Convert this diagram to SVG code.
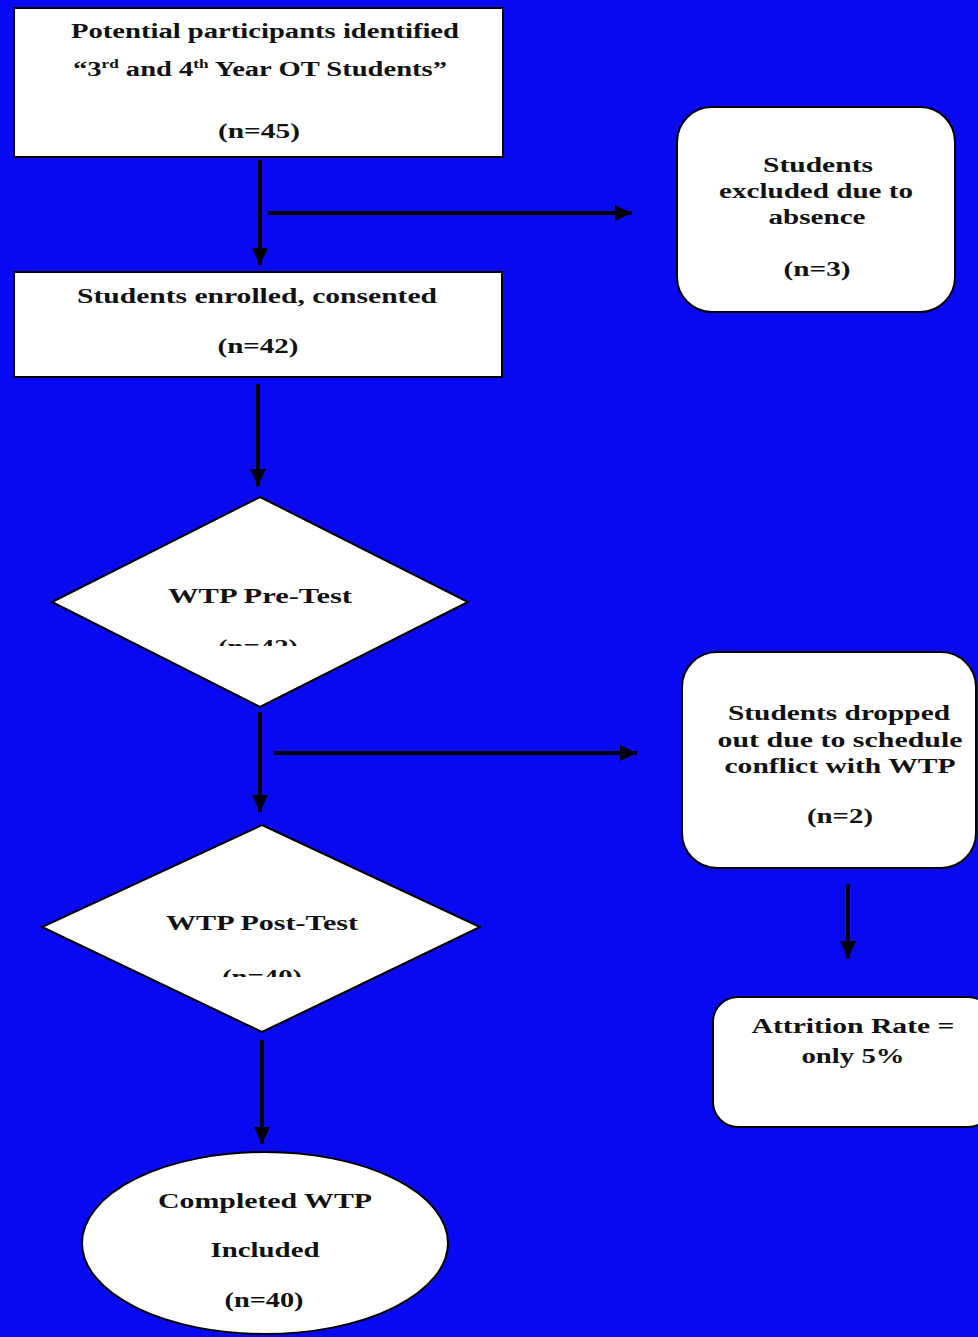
<svg xmlns="http://www.w3.org/2000/svg" width="978" height="1337" viewBox="0 0 978 1337">
<style>
.shape{fill:#ffffff;stroke:#000000;stroke-width:2}
.t{font-family:"Liberation Serif","Times New Roman",serif;font-weight:bold;font-size:20px;fill:#111111;text-anchor:middle}
.sup{font-size:12px}
.conn{stroke:#000000;stroke-width:4;fill:none}
</style>
<defs>
<marker id="ah" markerUnits="userSpaceOnUse" markerWidth="18" markerHeight="18" viewBox="0 0 18 18" refX="17" refY="9" orient="auto">
<path d="M0,1 L17,9 L0,17 Z" fill="#000000"/>
</marker>
<clipPath id="clip1"><rect x="0" y="0" width="978" height="646"/></clipPath>
<clipPath id="clip2"><rect x="0" y="0" width="978" height="977"/></clipPath>
</defs>
<rect x="0" y="0" width="978" height="1337" fill="#0a0af2"/>

<g id="connectors">
<line class="conn" x1="260" y1="160" x2="260" y2="265" marker-end="url(#ah)"/>
<line class="conn" x1="268" y1="213" x2="632" y2="213" marker-end="url(#ah)"/>
<line class="conn" x1="258" y1="384" x2="258" y2="486" marker-end="url(#ah)"/>
<line class="conn" x1="260" y1="712" x2="260" y2="812" marker-end="url(#ah)"/>
<line class="conn" x1="274" y1="753" x2="637" y2="753" marker-end="url(#ah)"/>
<line class="conn" x1="848" y1="884" x2="848" y2="958" marker-end="url(#ah)"/>
<line class="conn" x1="262" y1="1040" x2="262" y2="1144" marker-end="url(#ah)"/>
</g>

<g id="identified">
<rect class="shape" x="14" y="8" width="489" height="149"/>
<text class="t" x="265" y="38" textLength="388" lengthAdjust="spacingAndGlyphs">Potential participants identified</text>
<text class="t" x="260" y="76" textLength="374" lengthAdjust="spacingAndGlyphs">“3<tspan class="sup" dy="-8">rd</tspan><tspan dy="8"> and 4</tspan><tspan class="sup" dy="-8">th</tspan><tspan dy="8"> Year OT Students”</tspan></text>
<text class="t" x="259" y="138" textLength="82" lengthAdjust="spacingAndGlyphs">(n=45)</text>
</g>

<g id="excluded">
<rect class="shape" x="677" y="107" width="278" height="205" rx="35" ry="35"/>
<text class="t" x="818" y="172" textLength="110" lengthAdjust="spacingAndGlyphs">Students</text>
<text class="t" x="816" y="198" textLength="194" lengthAdjust="spacingAndGlyphs">excluded due to</text>
<text class="t" x="817" y="224" textLength="97" lengthAdjust="spacingAndGlyphs">absence</text>
<text class="t" x="817" y="276" textLength="67" lengthAdjust="spacingAndGlyphs">(n=3)</text>
</g>

<g id="enrolled">
<rect class="shape" x="14" y="272" width="488" height="105"/>
<text class="t" x="257" y="303" textLength="360" lengthAdjust="spacingAndGlyphs">Students enrolled, consented</text>
<text class="t" x="258" y="353" textLength="81" lengthAdjust="spacingAndGlyphs">(n=42)</text>
</g>

<g id="pretest">
<polygon class="shape" points="260,497 468,602 260,707 52,602"/>
<text class="t" x="260" y="603" textLength="184" lengthAdjust="spacingAndGlyphs">WTP Pre-Test</text>
<text class="t" x="258" y="654" textLength="80" lengthAdjust="spacingAndGlyphs" clip-path="url(#clip1)">(n=42)</text>
</g>

<g id="dropped">
<rect class="shape" x="682" y="652" width="294" height="216" rx="35" ry="35"/>
<text class="t" x="839" y="720" textLength="222" lengthAdjust="spacingAndGlyphs">Students dropped</text>
<text class="t" x="840" y="747" textLength="245" lengthAdjust="spacingAndGlyphs">out due to schedule</text>
<text class="t" x="840" y="773" textLength="231" lengthAdjust="spacingAndGlyphs">conflict with WTP</text>
<text class="t" x="840" y="823" textLength="66" lengthAdjust="spacingAndGlyphs">(n=2)</text>
</g>

<g id="posttest">
<polygon class="shape" points="262,825 480,927 262,1032 42,927"/>
<text class="t" x="262" y="930" textLength="192" lengthAdjust="spacingAndGlyphs">WTP Post-Test</text>
<text class="t" x="262" y="984" textLength="80" lengthAdjust="spacingAndGlyphs" clip-path="url(#clip2)">(n=40)</text>
</g>

<g id="attrition">
<rect class="shape" x="713" y="997" width="280" height="130" rx="25" ry="25"/>
<text class="t" x="853" y="1033" textLength="203" lengthAdjust="spacingAndGlyphs">Attrition Rate =</text>
<text class="t" x="853" y="1063" textLength="103" lengthAdjust="spacingAndGlyphs">only 5%</text>
</g>

<g id="completed">
<ellipse class="shape" cx="265" cy="1243" rx="183" ry="91"/>
<text class="t" x="265" y="1208" textLength="214" lengthAdjust="spacingAndGlyphs">Completed WTP</text>
<text class="t" x="265" y="1257" textLength="109" lengthAdjust="spacingAndGlyphs">Included</text>
<text class="t" x="264" y="1307" textLength="79" lengthAdjust="spacingAndGlyphs">(n=40)</text>
</g>
</svg>
